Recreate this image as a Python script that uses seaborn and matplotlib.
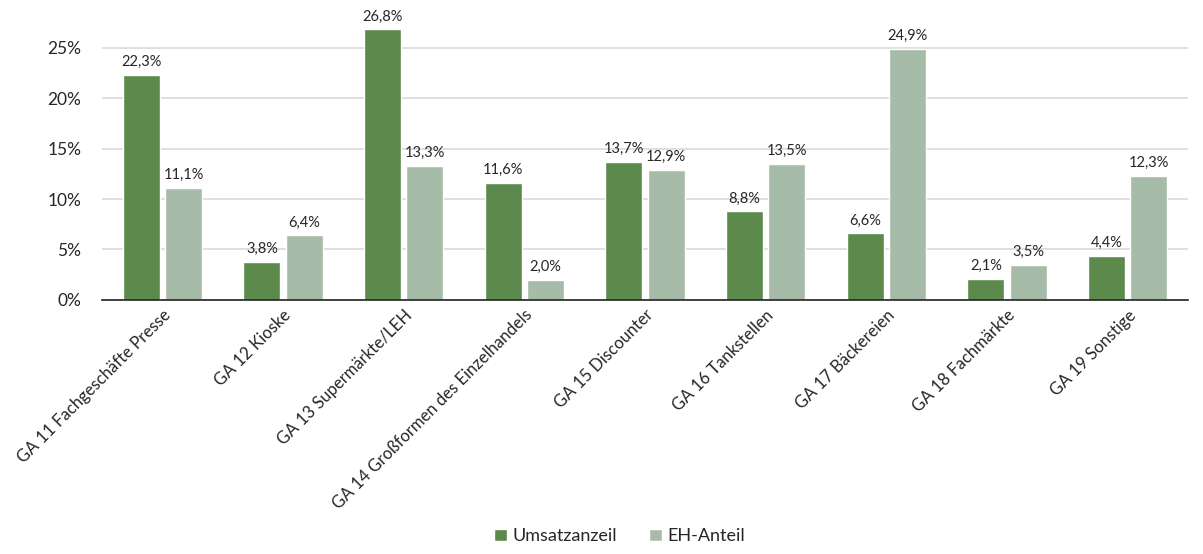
import matplotlib
matplotlib.use("Agg")
import matplotlib.pyplot as plt
import seaborn as sns
import pandas as pd
from matplotlib.ticker import FuncFormatter

categories = [
    "GA 11 Fachgeschäfte Presse",
    "GA 12 Kioske",
    "GA 13 Supermärkte/LEH",
    "GA 14 Großformen des Einzelhandels",
    "GA 15 Discounter",
    "GA 16 Tankstellen",
    "GA 17 Bäckereien",
    "GA 18 Fachmärkte",
    "GA 19 Sonstige",
]
umsatzanteil = [22.3, 3.8, 26.8, 11.6, 13.7, 8.8, 6.6, 2.1, 4.4]
eh_anteil = [11.1, 6.4, 13.3, 2.0, 12.9, 13.5, 24.9, 3.5, 12.3]
series_names = ["Umsatzanzeil", "EH-Anteil"]
yticks = [0, 5, 10, 15, 20, 25]

df = pd.DataFrame({
    "Kategorie": categories * 2,
    "Serie": [series_names[0]] * len(categories) + [series_names[1]] * len(categories),
    "Wert": umsatzanteil + eh_anteil,
})

sns.set_theme(style="white")
plt.rcParams["font.family"] = ["Lato", "DejaVu Sans"]
text_color = "#262626"

fig = plt.figure(figsize=(12.03, 5.54), dpi=100)
ax = fig.add_axes([0.0848, 0.4585, 0.9027, 0.525])

palette = {series_names[0]: "#5B8A4C", series_names[1]: "#A7BBA9"}
sns.barplot(data=df, x="Kategorie", y="Wert", hue="Serie", palette=palette,
            width=0.7, gap=0.12, ax=ax, legend=True, saturation=1)

for container in ax.containers:
    vals = container.datavalues
    ax.bar_label(container, labels=[f"{v:.1f}%".replace(".", ",") for v in vals],
                 padding=4, fontsize=10.5, color=text_color)

ax.set_ylim(0, 28.8)
ax.set_yticks(yticks)
ax.yaxis.set_major_formatter(FuncFormatter(lambda v, p: f"{v:.0f}%"))
ax.tick_params(axis="y", labelsize=12.5, colors=text_color, length=0, pad=15)
ax.tick_params(axis="x", labelsize=12, colors=text_color, length=0, pad=5)
plt.setp(ax.get_xticklabels(), rotation=45, ha="right", rotation_mode="anchor")
ax.yaxis.grid(True, color="#D9D9D9", linewidth=1.2)
ax.set_axisbelow(True)
ax.set_xlabel("")
ax.set_ylabel("")
for s in ["top", "right", "left"]:
    ax.spines[s].set_visible(False)
ax.spines["bottom"].set_color("#222222")
ax.spines["bottom"].set_linewidth(1.2)
ax.set_xlim(-0.5, len(categories) - 0.5)

handles, labels = ax.get_legend_handles_labels()
ax.legend_.remove()
fig.legend(handles, labels, loc="lower center", bbox_to_anchor=(0.515, -0.012), ncol=2,
           frameon=False, fontsize=13, handlelength=0.7, handleheight=0.7,
           handletextpad=0.3, columnspacing=1.8, labelcolor=text_color)

fig.savefig("out.png", dpi=100)
